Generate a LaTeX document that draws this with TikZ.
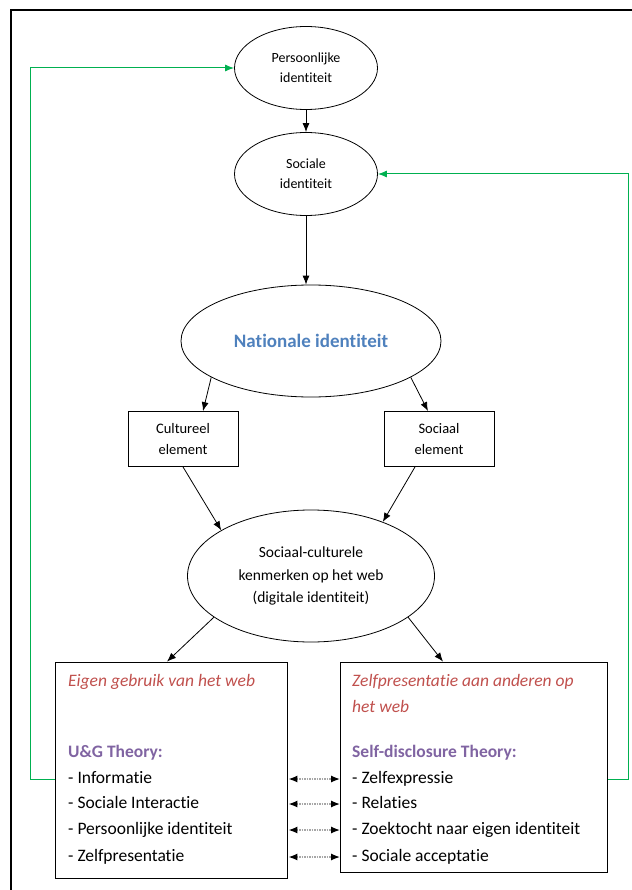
\documentclass[tikz,border=0pt]{standalone}
\usepackage{fontspec}
\setmainfont{Carlito}[Ligatures={NoCommon}]
\usetikzlibrary{shapes.geometric,arrows.meta}
\definecolor{loopgreen}{HTML}{00B050}
\definecolor{natblue}{HTML}{4F81BD}
\definecolor{headred}{HTML}{C0504D}
\definecolor{theorypurple}{HTML}{8064A2}

\begin{document}
\begin{tikzpicture}[x=1pt, y=-1pt,
  every node/.style = {align=center, inner sep=0pt},
  ident/.style = {ellipse, draw, line width=0.8pt, font=\fontsize{14}{20}\selectfont},
  elem/.style = {rectangle, draw, line width=0.8pt, minimum width=110pt,
    minimum height=55pt, font=\fontsize{14.5}{21}\selectfont},
  theory/.style = {rectangle, draw, line width=0.8pt},
  listrow/.style = {anchor=west, text height=12pt, text depth=4pt,
    font=\fontsize{17.5}{20}\selectfont},
  flow/.style = {-{Latex[length=9pt,width=7pt]}, line width=0.8pt},
  feedback/.style = {-{Latex[length=9pt,width=7pt]}, draw=loopgreen, line width=1pt},
  twoway/.style = {{Latex[length=9pt,width=7pt,color=black]}-{Latex[length=9pt,width=7pt,color=black]},
    draw=gray!70, densely dotted, line width=1.5pt}
  ]
  \useasboundingbox (0,0) rectangle (631,890);
  \draw[line width=2pt] (633,10) -- (11,10) -- (11,892);

  \node[ident, minimum width=143pt, minimum height=83pt] (pers) at (306,68) {Persoonlijke\\identiteit};
  \node[ident, minimum width=143pt, minimum height=83pt] (soc) at (306,174) {Sociale\\identiteit};
  \node[ident, minimum width=260pt, minimum height=112pt, text=natblue,
    font=\fontsize{19}{22}\bfseries] (nat) at (311,341) {Nationale identiteit};
  \node[elem] (cult) at (183,439) {Cultureel\\element};
  \node[elem] (sociaal) at (439,439) {Sociaal\\element};
  \node[ident, minimum width=247pt, minimum height=132pt,
    font=\fontsize{15.5}{22.5}\selectfont] (web) at (311,576)
    {Sociaal-culturele\\kenmerken op het web\\(digitale identiteit)};

  \node[theory, minimum width=232pt, minimum height=216pt] (ug) at (171,770) {};
  \node[theory, minimum width=267pt, minimum height=210pt] (sd) at (474,767) {};

  % left box
  \node[listrow, text=headred, font=\fontsize{17.5}{20}\itshape] (ughead) at (68,682) {Eigen gebruik van het web};
  \node[listrow, text=theorypurple, font=\fontsize{17.5}{20}\bfseries] (ugname) at (68,753) {U\&G Theory:};
  \node[listrow] (ug1) at (68,779) {- Informatie};
  \node[listrow] (ug2) at (68,804) {- Sociale Interactie};
  \node[listrow] (ug3) at (68,830) {- Persoonlijke identiteit};
  \node[listrow] (ug4) at (68,857) {- Zelfpresentatie};
  % right box
  \node[listrow, text=headred, font=\fontsize{17.5}{20}\itshape] (sdhead) at (352,682) {Zelfpresentatie aan anderen op};
  \node[listrow, text=headred, font=\fontsize{17.5}{20}\itshape] (sdhead2) at (352,708) {het web};
  \node[listrow, text=theorypurple, font=\fontsize{17.5}{20}\bfseries] (sdname) at (352,753) {Self-disclosure Theory:};
  \node[listrow] (sd1) at (352,779) {- Zelfexpressie};
  \node[listrow] (sd2) at (352,804) {- Relaties};
  \node[listrow] (sd3) at (352,830) {- Zoektocht naar eigen identiteit};
  \node[listrow] (sd4) at (352,857) {- Sociale acceptatie};

  \draw[flow] (pers) -- (soc);
  \draw[flow] (soc.south) -- (nat.north -| soc.south);
  \draw[flow] (nat.200) -- ([xshift=20pt]cult.north);
  \draw[flow] (nat.340) -- ([xshift=-11pt]sociaal.north);
  \draw[flow] (cult.south) -- (web.153);
  \draw[flow] ([xshift=-24pt]sociaal.south) -- (web.37);
  \draw[flow] (web.203) -- ([xshift=-4pt]ug.north);
  \draw[flow] (web.337) -- ([xshift=-31pt]sd.north);

  \foreach \i in {1,...,4}
    \draw[twoway, shorten <=1pt] (ug.east |- ug\i) -- (sd.west |- sd\i);

  \draw[feedback] (ug.west |- ug1) -- ++(-24,0) |- (pers.west);
  \draw[feedback] (sd.east |- sd1) -- ++(21,0) |- (soc.east);
\end{tikzpicture}
\end{document}
